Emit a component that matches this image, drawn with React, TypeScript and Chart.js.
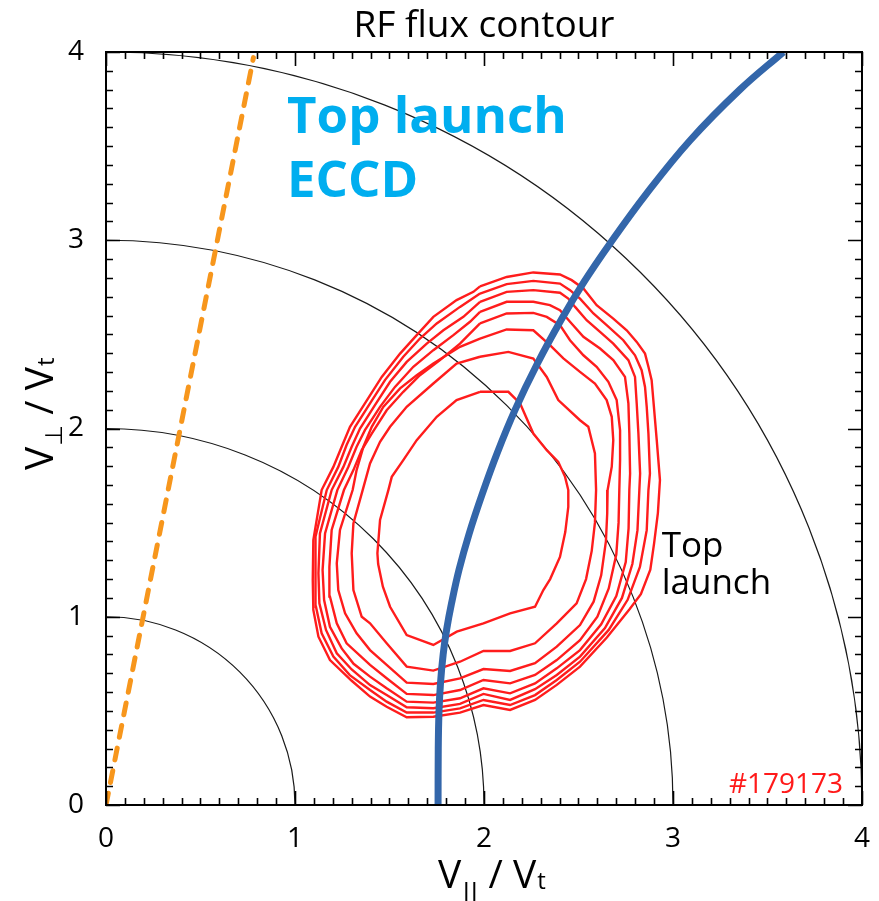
import React, { useEffect, useRef } from 'react';
import { Chart, registerables } from 'chart.js';

Chart.register(...registerables);

// ---------------- data ----------------
const chartTitle = 'RF flux contour';
const axisMin = 0;
const axisMax = 4;
const minorStep = 0.1;
const circleRadii = [1, 2, 3, 4];

// straight orange (dashed) line
const orangeLine: [number, number][] = [
  [0, 0],
  [0.78, 3.97],
];

// blue resonance curve
const blueResonance: [number, number][] = [
  [1.757, 0], [1.758, 0.3], [1.762, 0.5], [1.77, 0.65], [1.784, 0.8], [1.802, 0.93],
  [1.828, 1.07], [1.868, 1.25], [1.921, 1.44], [1.99, 1.65], [2.07, 1.87], [2.165, 2.1],
  [2.28, 2.34], [2.41, 2.58], [2.53, 2.78], [2.667, 2.983], [2.861, 3.249], [3.09, 3.53],
  [3.354, 3.8], [3.584, 4.0],
];

// RF flux contours, outermost (1) to innermost (8)
const contour1: [number, number][] = [
  [1.979, 2.755], [2.12, 2.805], [2.261, 2.829], [2.402, 2.818], [2.464, 2.788], [2.526, 2.744],
  [2.596, 2.655], [2.684, 2.584], [2.755, 2.522], [2.808, 2.46], [2.852, 2.398], [2.87, 2.328],
  [2.887, 2.257], [2.896, 2.151], [2.914, 1.938], [2.931, 1.726], [2.92, 1.55], [2.9, 1.39],
  [2.88, 1.25], [2.83, 1.12], [2.77, 1.04], [2.65, 0.89], [2.508, 0.735], [2.385, 0.638],
  [2.27, 0.558], [2.138, 0.505], [1.997, 0.531], [1.873, 0.491], [1.732, 0.469], [1.591, 0.466],
  [1.485, 0.522], [1.397, 0.576], [1.3, 0.66], [1.185, 0.77], [1.124, 0.894], [1.097, 1.036],
  [1.094, 1.195], [1.097, 1.407], [1.141, 1.673], [1.203, 1.796], [1.247, 1.903], [1.291, 2.009],
  [1.37, 2.133], [1.459, 2.274], [1.556, 2.398], [1.644, 2.496], [1.732, 2.593], [1.855, 2.682],
  [1.944, 2.726],
];
const contour2: [number, number][] = [
  [1.979, 2.717], [2.12, 2.767], [2.261, 2.784], [2.402, 2.77], [2.455, 2.735], [2.508, 2.69],
  [2.579, 2.611], [2.649, 2.549], [2.737, 2.469], [2.799, 2.389], [2.834, 2.31], [2.852, 2.221],
  [2.861, 2.115], [2.87, 1.973], [2.878, 1.761], [2.87, 1.673], [2.861, 1.46], [2.825, 1.265],
  [2.76, 1.09], [2.66, 0.93], [2.508, 0.761], [2.385, 0.664], [2.27, 0.584], [2.138, 0.531],
  [1.997, 0.558], [1.873, 0.513], [1.732, 0.491], [1.591, 0.491], [1.485, 0.549], [1.397, 0.611],
  [1.29, 0.69], [1.203, 0.788], [1.141, 0.912], [1.111, 1.053], [1.106, 1.213], [1.111, 1.425],
  [1.168, 1.673], [1.229, 1.796], [1.273, 1.912], [1.318, 2.009], [1.397, 2.133], [1.476, 2.257],
  [1.573, 2.381], [1.661, 2.478], [1.75, 2.558], [1.873, 2.646],
];
const contour3: [number, number][] = [
  [1.979, 2.673], [2.12, 2.726], [2.261, 2.735], [2.402, 2.721], [2.446, 2.69], [2.482, 2.646],
  [2.543, 2.575], [2.614, 2.513], [2.684, 2.451], [2.764, 2.363], [2.799, 2.274], [2.808, 2.133],
  [2.817, 1.973], [2.826, 1.761], [2.822, 1.673], [2.812, 1.46], [2.785, 1.28], [2.73, 1.1],
  [2.64, 0.94], [2.508, 0.788], [2.385, 0.691], [2.27, 0.615], [2.138, 0.558], [1.997, 0.59],
  [1.873, 0.537], [1.732, 0.514], [1.591, 0.519], [1.485, 0.584], [1.397, 0.637], [1.3, 0.72],
  [1.221, 0.806], [1.164, 0.93], [1.129, 1.071], [1.124, 1.231], [1.132, 1.443], [1.194, 1.673],
  [1.256, 1.796], [1.3, 1.903], [1.344, 2.0], [1.423, 2.124], [1.503, 2.248], [1.591, 2.354],
  [1.697, 2.451], [1.785, 2.522], [1.891, 2.593],
];
const contour4: [number, number][] = [
  [1.979, 2.62], [2.12, 2.673], [2.261, 2.673], [2.349, 2.655], [2.402, 2.628], [2.455, 2.567],
  [2.526, 2.487], [2.614, 2.425], [2.684, 2.363], [2.746, 2.274], [2.764, 2.133], [2.769, 1.973],
  [2.773, 1.761], [2.769, 1.673], [2.765, 1.47], [2.75, 1.29], [2.7, 1.11], [2.62, 0.96],
  [2.508, 0.823], [2.385, 0.726], [2.27, 0.646], [2.138, 0.593], [1.997, 0.62], [1.873, 0.567],
  [1.732, 0.544], [1.591, 0.549], [1.485, 0.62], [1.397, 0.682], [1.31, 0.75], [1.247, 0.832],
  [1.185, 0.947], [1.154, 1.089], [1.146, 1.248], [1.159, 1.443], [1.224, 1.673], [1.282, 1.796],
  [1.326, 1.903], [1.37, 1.991], [1.45, 2.115], [1.529, 2.221], [1.626, 2.328], [1.732, 2.416],
  [1.838, 2.496], [1.926, 2.567],
];
const contour5: [number, number][] = [
  [1.979, 2.558], [2.12, 2.611], [2.261, 2.614], [2.332, 2.593], [2.402, 2.549], [2.455, 2.469],
  [2.526, 2.389], [2.596, 2.328], [2.658, 2.248], [2.702, 2.151], [2.72, 1.991], [2.72, 1.832],
  [2.716, 1.673], [2.712, 1.5], [2.7, 1.33], [2.66, 1.15], [2.6, 1.0], [2.508, 0.876],
  [2.385, 0.77], [2.27, 0.691], [2.138, 0.646], [1.997, 0.664], [1.873, 0.611], [1.732, 0.584],
  [1.591, 0.59], [1.485, 0.673], [1.397, 0.744], [1.273, 0.859], [1.221, 0.965], [1.185, 1.107],
  [1.182, 1.266], [1.194, 1.461], [1.259, 1.673], [1.309, 1.779], [1.353, 1.885], [1.406, 1.973],
  [1.485, 2.097], [1.573, 2.195], [1.661, 2.283], [1.767, 2.363], [1.873, 2.451],
];
const contour6: [number, number][] = [
  [1.979, 2.478], [2.12, 2.526], [2.261, 2.522], [2.349, 2.443], [2.42, 2.372], [2.508, 2.301],
  [2.587, 2.239], [2.649, 2.151], [2.676, 2.062], [2.684, 1.938], [2.676, 1.797], [2.654, 1.673],
  [2.652, 1.55], [2.645, 1.4], [2.62, 1.22], [2.58, 1.08], [2.508, 0.956], [2.385, 0.841],
  [2.27, 0.753], [2.138, 0.712], [1.997, 0.722], [1.873, 0.673], [1.732, 0.643], [1.591, 0.65],
  [1.485, 0.744], [1.397, 0.823], [1.326, 0.912], [1.265, 1.018], [1.229, 1.142], [1.221, 1.284],
  [1.238, 1.461], [1.305, 1.673], [1.326, 1.779], [1.362, 1.903], [1.406, 2.009], [1.467, 2.115],
  [1.556, 2.213], [1.644, 2.283], [1.732, 2.345], [1.873, 2.434],
];
const contour7: [number, number][] = [
  [1.979, 2.381], [2.129, 2.407], [2.261, 2.372], [2.332, 2.274], [2.393, 2.151], [2.508, 2.044],
  [2.552, 2.009], [2.587, 1.867], [2.593, 1.673], [2.587, 1.5], [2.57, 1.35], [2.54, 1.2],
  [2.49, 1.071], [2.385, 0.965], [2.27, 0.859], [2.138, 0.818], [1.997, 0.818], [1.873, 0.761],
  [1.732, 0.714], [1.591, 0.735], [1.485, 0.859], [1.397, 0.965], [1.353, 1.0], [1.309, 1.142],
  [1.3, 1.337], [1.309, 1.496], [1.358, 1.673], [1.397, 1.814], [1.45, 1.929], [1.503, 2.009],
  [1.591, 2.115], [1.732, 2.239], [1.855, 2.345],
];
const contour8: [number, number][] = [
  [1.979, 2.195], [2.129, 2.195], [2.191, 2.133], [2.261, 1.973], [2.332, 1.885], [2.393, 1.823],
  [2.429, 1.743], [2.446, 1.673], [2.446, 1.584], [2.43, 1.45], [2.402, 1.318], [2.35, 1.2],
  [2.314, 1.142], [2.27, 1.053], [2.138, 1.018], [1.997, 0.965], [1.856, 0.921], [1.732, 0.85],
  [1.591, 0.903], [1.503, 1.053], [1.465, 1.16], [1.44, 1.28], [1.436, 1.337], [1.45, 1.514],
  [1.494, 1.673], [1.512, 1.743], [1.573, 1.832], [1.644, 1.938], [1.75, 2.062], [1.855, 2.151],
];
const contours = [contour1, contour2, contour3, contour4, contour5, contour6, contour7, contour8];

// annotation texts
const blueNoteLines = ['Top launch', 'ECCD'];
const blackNoteLines = ['Top', 'launch'];
const shotLabel = '#179173';

// ---------------- helpers ----------------
const toXY = (pts: [number, number][]) => pts.map(([x, y]) => ({ x, y }));
const closeLoop = (pts: [number, number][]) => [...pts, pts[0]];
const isInt = (v: number) => Math.abs(v - Math.round(v)) < 1e-6;

const FONT = "'Open Sans', 'Noto Sans', sans-serif";

const decorPlugin = {
  id: 'decor',
  beforeDatasetsDraw(chart: any) {
    const { ctx, chartArea } = chart;
    const xs = chart.scales.x;
    const ys = chart.scales.y;
    const { left, right, top, bottom } = chartArea;
    ctx.save();
    ctx.beginPath();
    ctx.rect(left, top, right - left, bottom - top);
    ctx.clip();
    ctx.strokeStyle = '#1a1a1a';
    ctx.lineWidth = 1.2;
    const cx = xs.getPixelForValue(0);
    const cy = ys.getPixelForValue(0);
    circleRadii.forEach((r) => {
      const rx = xs.getPixelForValue(r) - cx;
      const ry = cy - ys.getPixelForValue(r);
      ctx.beginPath();
      ctx.ellipse(cx, cy, rx, ry, 0, -Math.PI / 2, 0);
      ctx.stroke();
    });
    ctx.restore();
  },
  afterDatasetsDraw(chart: any) {
    const { ctx, chartArea } = chart;
    const xs = chart.scales.x;
    const ys = chart.scales.y;
    const { left, right, top, bottom } = chartArea;
    ctx.save();
    // inward ticks on all four sides
    ctx.strokeStyle = '#000';
    ctx.lineWidth = 1.6;
    ctx.beginPath();
    xs.ticks.forEach((t: any) => {
      const len = isInt(t.value) ? 14 : 7;
      const px = Math.round(xs.getPixelForValue(t.value)) + 0.5;
      ctx.moveTo(px, bottom);
      ctx.lineTo(px, bottom - len);
      ctx.moveTo(px, top);
      ctx.lineTo(px, top + len);
    });
    ys.ticks.forEach((t: any) => {
      const len = isInt(t.value) ? 14 : 7;
      const py = Math.round(ys.getPixelForValue(t.value)) + 0.5;
      ctx.moveTo(left, py);
      ctx.lineTo(left + len, py);
      ctx.moveTo(right, py);
      ctx.lineTo(right - len, py);
    });
    ctx.stroke();
    // frame
    ctx.lineWidth = 2;
    ctx.strokeRect(left, top, right - left, bottom - top);

    // blue annotation
    ctx.fillStyle = '#00AEEF';
    ctx.font = `700 51px ${FONT}`;
    ctx.textAlign = 'left';
    ctx.textBaseline = 'alphabetic';
    ctx.fillText(blueNoteLines[0], xs.getPixelForValue(0.958), ys.getPixelForValue(3.569));
    ctx.fillText(blueNoteLines[1], xs.getPixelForValue(0.958), ys.getPixelForValue(3.229));

    // black annotation
    ctx.fillStyle = '#000';
    ctx.font = `400 35px ${FONT}`;
    ctx.fillText(blackNoteLines[0], xs.getPixelForValue(2.94), ys.getPixelForValue(1.319));
    ctx.fillText(blackNoteLines[1], xs.getPixelForValue(2.94), ys.getPixelForValue(1.123));

    // shot number
    ctx.fillStyle = '#FF1A1A';
    ctx.font = `400 28px ${FONT}`;
    ctx.textAlign = 'right';
    ctx.fillText(shotLabel, xs.getPixelForValue(3.9), ys.getPixelForValue(0.064));
    ctx.restore();
  },
  afterDraw(chart: any) {
    const { ctx, chartArea } = chart;
    const { left, right, bottom, top } = chartArea;
    ctx.save();
    ctx.fillStyle = '#000';
    ctx.textBaseline = 'alphabetic';
    // title
    ctx.font = `400 37px ${FONT}`;
    ctx.textAlign = 'center';
    ctx.fillText(chartTitle, (left + right) / 2, top - 15);

    ctx.textAlign = 'left';
    const drawLabel = (sub: string) => {
      let x = 0;
      ctx.font = `400 39px ${FONT}`;
      ctx.fillText('V', x, 0);
      x += ctx.measureText('V').width + 1;
      ctx.font = `400 24px 'DejaVu Sans', ${FONT}`;
      ctx.fillText(sub, x, sub === '⊥' ? 9 : 13);
      x += ctx.measureText(sub).width;
      ctx.font = `400 39px ${FONT}`;
      ctx.fillText(' / V', x, 0);
      x += ctx.measureText(' / V').width + 1;
      ctx.font = `400 24px ${FONT}`;
      ctx.fillText('t', x, 1);
    };
    // x axis label
    ctx.save();
    ctx.translate(438, bottom + 83);
    drawLabel('||');
    ctx.restore();
    // y axis label
    ctx.save();
    ctx.translate(53, 470);
    ctx.rotate(-Math.PI / 2);
    drawLabel('⊥');
    ctx.restore();
    ctx.restore();
  },
};

export default function App() {
  const canvasRef = useRef<HTMLCanvasElement | null>(null);

  useEffect(() => {
    const canvas = canvasRef.current;
    if (!canvas) return;

    const datasets: any[] = [
      {
        label: 'resonance',
        data: toXY(blueResonance),
        borderColor: '#3366AA',
        borderWidth: 7,
        showLine: true,
        pointRadius: 0,
        tension: 0.4,
        fill: false,
      },
      {
        label: 'orange',
        data: toXY(orangeLine),
        borderColor: '#F7961C',
        borderWidth: 5,
        borderDash: [12, 11],
        borderCapStyle: 'round',
        showLine: true,
        pointRadius: 0,
        fill: false,
      },
      ...contours.map((c, i) => ({
        label: `contour${i + 1}`,
        data: toXY(closeLoop(c)),
        borderColor: '#FF1C1C',
        borderWidth: 2.4,
        showLine: true,
        pointRadius: 0,
        tension: 0,
        fill: false,
      })),
    ];

    const tickCfg = (pad: number) => ({
      stepSize: minorStep,
      autoSkip: false,
      maxRotation: 0,
      minRotation: 0,
      padding: pad,
      color: '#000',
      font: { family: FONT, size: 28 },
      callback: (v: any) => (isInt(Number(v)) ? String(Math.round(Number(v))) : ''),
    });

    const chart = new Chart(canvas, {
      type: 'scatter',
      data: { datasets },
      plugins: [decorPlugin],
      options: {
        responsive: false,
        maintainAspectRatio: false,
        animation: false,
        layout: { padding: { top: 52, right: 17, left: 0, bottom: 0 } },
        plugins: {
          legend: { display: false },
          tooltip: { enabled: false },
          title: { display: false },
        },
        scales: {
          x: {
            type: 'linear',
            min: axisMin,
            max: axisMax,
            grid: { display: false },
            border: { display: false },
            ticks: tickCfg(9),
            afterFit: (s: any) => {
              s.height = 96;
            },
          },
          y: {
            type: 'linear',
            min: axisMin,
            max: axisMax,
            grid: { display: false },
            border: { display: false },
            ticks: tickCfg(14),
            afterFit: (s: any) => {
              s.width = 106;
            },
          },
        },
      } as any,
    });

    return () => chart.destroy();
  }, []);

  return (
    <div style={{ position: 'absolute', left: 0, top: 0, width: 879, height: 901, background: '#fff' }}>
      <canvas ref={canvasRef} width={879} height={901} />
    </div>
  );
}
